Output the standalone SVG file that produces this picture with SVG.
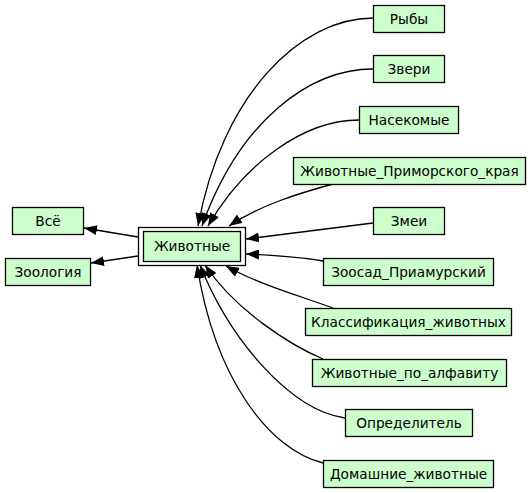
<svg xmlns="http://www.w3.org/2000/svg" width="531" height="493" viewBox="0 0 531 493">
<style>
.n rect{fill:#ccffcc;stroke:#000;stroke-width:1.3}
.n text{font-family:"DejaVu Sans",sans-serif;font-size:13.7px;text-anchor:middle;fill:#000}
.e path{fill:none;stroke:#000;stroke-width:1.3;marker-end:url(#a)}
</style>
<defs>
<marker id="a" markerWidth="13" markerHeight="10" refX="13" refY="5" orient="auto" markerUnits="userSpaceOnUse"><path d="M0,0 L13,5 L0,10z" fill="#000"/></marker>
</defs>
<rect width="531" height="493" fill="#fff"/>
<g class="e" id="edges">
<path d="M138,237 L84,228"/>
<path d="M138,256 L91,263"/>
<path d="M373,18 C300,18 222,95 198,226"/>
<path d="M373,69 C310,69 240,120 202,226"/>
<path d="M359,120 C305,120 245,162 208,226"/>
<path d="M333,184 C300,193 260,205 229,226"/>
<path d="M373,223 L246,239"/>
<path d="M323,261 C300,257 270,255 246,254"/>
<path d="M333,308 C300,296 260,285 226,266"/>
<path d="M323,359 C290,345 235,310 205,265"/>
<path d="M345,418 C290,410 230,340 200,265"/>
<path d="M323,463 C270,450 215,380 197,265"/>
</g>
<g class="n" id="n_main"><rect x="138.5" y="227.5" width="107" height="38" style="fill:#fff"/><rect x="143.5" y="231.5" width="97" height="30"/><text x="192" y="251">Животные</text></g>
<g class="n" id="n_all"><rect x="12.5" y="207.5" width="71" height="27"/><text x="48" y="226">Всё</text></g>
<g class="n" id="n_zoo"><rect x="5.5" y="258.5" width="85" height="27"/><text x="48" y="277">Зоология</text></g>
<g class="n" id="n_fish"><rect x="373.5" y="5.5" width="71" height="27"/><text x="409" y="24">Рыбы</text></g>
<g class="n" id="n_beasts"><rect x="373.5" y="55.5" width="71" height="27"/><text x="409" y="74">Звери</text></g>
<g class="n" id="n_insects"><rect x="359.5" y="106.5" width="99" height="27"/><text x="409" y="125">Насекомые</text></g>
<g class="n" id="n_primorye"><rect x="293.5" y="157.5" width="232" height="27"/><text x="409.5" y="176">Животные_Приморского_края</text></g>
<g class="n" id="n_snakes"><rect x="373.5" y="207.5" width="71" height="27"/><text x="409" y="226">Змеи</text></g>
<g class="n" id="n_zoopark"><rect x="323.5" y="258.5" width="170" height="27"/><text x="408.5" y="277">Зоосад_Приамурский</text></g>
<g class="n" id="n_class"><rect x="305.5" y="308.5" width="206" height="27"/><text x="408.5" y="327">Классификация_животных</text></g>
<g class="n" id="n_alpha"><rect x="312.5" y="359.5" width="194" height="27"/><text x="409.5" y="378">Животные_по_алфавиту</text></g>
<g class="n" id="n_key"><rect x="345.5" y="409.5" width="127" height="27"/><text x="409" y="428">Определитель</text></g>
<g class="n" id="n_domestic"><rect x="323.5" y="460.5" width="170" height="27"/><text x="408.5" y="479">Домашние_животные</text></g>
</svg>
